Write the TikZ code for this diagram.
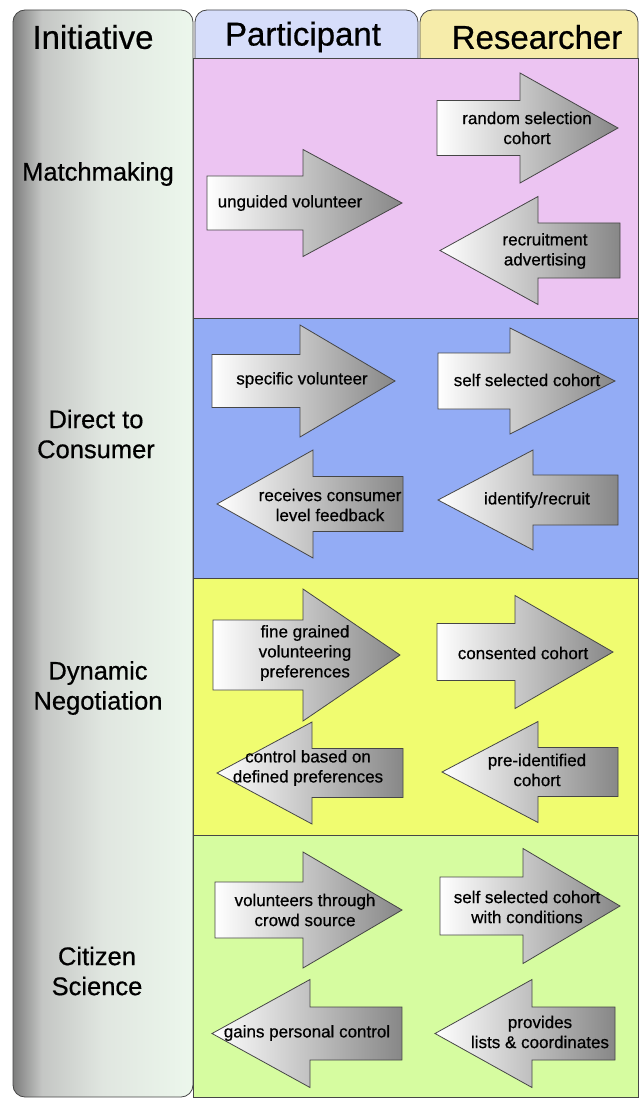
\documentclass[tikz,border=0pt]{standalone}
\usepackage{fontspec}
\setmainfont[FakeBold=0.6]{Liberation Sans}
\definecolor{pinkc}{RGB}{236,196,242}
\definecolor{bluec}{RGB}{147,172,245}
\definecolor{yellowc}{RGB}{240,252,112}
\definecolor{greenc}{RGB}{214,252,160}
\definecolor{partc}{RGB}{214,221,250}
\definecolor{resc}{RGB}{246,236,170}
\definecolor{edge}{RGB}{70,70,70}
\definecolor{colA}{RGB}{125,125,125}
\definecolor{colB}{RGB}{196,198,196}
\definecolor{colC}{RGB}{224,230,224}
\definecolor{colD}{RGB}{236,247,236}
\pgfdeclarehorizontalshading{initshade}{100bp}{color(0bp)=(colA); color(25bp)=(colA); color(33bp)=(colB); color(50bp)=(colC); color(75bp)=(colD); color(100bp)=(colD)}
\tikzset{
  arrowsty/.style={draw=edge, line width=0.8pt, left color=white, right color=black!47},
  atext/.style={inner sep=0pt, align=center, font=\fontsize{17}{20}\selectfont},
  htext/.style={inner sep=0pt, font=\fontsize{33}{36}\selectfont},
  rtext/.style={inner sep=0pt, align=center, font=\fontsize{25.5}{30}\selectfont},
  rowbox/.style={draw=edge, line width=0.8pt},
  tabbox/.style={draw=edge, line width=0.8pt, rounded corners=12pt}
}
\newcommand\rightarr[6]{%
  \shadedraw[arrowsty] (#1,#4-#5) -- (#2,#4-#5) -- (#2,#4-#6) -- (#3,#4) -- (#2,#4+#6) -- (#2,#4+#5) -- (#1,#4+#5) -- cycle;}
\newcommand\leftarr[6]{%
  \shadedraw[arrowsty] (#1,#4) -- (#2,#4-#6) -- (#2,#4-#5) -- (#3,#4-#5) -- (#3,#4+#5) -- (#2,#4+#5) -- (#2,#4+#6) -- cycle;}
\begin{document}
\begin{tikzpicture}[x=1pt,y=-1pt]
\useasboundingbox (0,0) rectangle (640,1099);
\fill[white] (0,0) rectangle (640,1099);
% initiative column
\shadedraw[shading=initshade, draw=edge, line width=0.8pt, rounded corners=12pt] (13,10) rectangle (193,1097);
% tabs
\draw[tabbox, fill=partc] (195,58) -- (195,10) -- (418,10) -- (418,58);
\draw[tabbox, fill=resc] (420,58) -- (420,10) -- (638,10) -- (638,58);
% rows
\draw[rowbox, fill=pinkc] (193,58) rectangle (638,318);
\draw[rowbox, fill=bluec] (193,318) rectangle (638,578);
\draw[rowbox, fill=yellowc] (193,578) rectangle (638,835);
\draw[rowbox, fill=greenc] (193,835) rectangle (638,1097);
% headers
\node[htext] (hI) at (93,37) {Initiative};
\node[htext] (hP) at (303,37) {Participant};
\node[htext] (hR) at (537,37) {Researcher};
% row labels
\node[rtext] (l1) at (98,174) {Matchmaking};
\node[rtext] (l2) at (96,434) {Direct to\\Consumer};
\node[rtext] (l3) at (98,688) {Dynamic\\Negotiation};
\node[rtext] (l4) at (97,971) {Citizen\\Science};
% row 1
\rightarr{437}{520}{618}{128}{27.5}{55}
\rightarr{207}{303}{402}{203}{27}{53.5}
\leftarr{440}{538}{620}{250.5}{27.5}{54}
\node[atext] (a11) at (527,128) {random selection\\cohort};
\node[atext] (a12) at (290,203) {unguided volunteer};
\node[atext] (a13) at (545,251) {recruitment\\advertising};
% row 2
\rightarr{212}{300}{395}{381}{26.5}{56}
\rightarr{438}{510}{615}{381}{28}{53}
\leftarr{217}{313}{403}{504}{27.5}{54}
\leftarr{438}{533}{618}{500}{25}{50}
\node[atext] (a21) at (302,380) {specific volunteer};
\node[atext] (a22) at (527,380) {self selected cohort};
\node[atext] (a23) at (330,505) {receives consumer\\level feedback};
\node[atext] (a24) at (537,500) {identify/recruit};
% row 3
\rightarr{213}{303}{400}{655}{35}{66}
\rightarr{437}{515}{613}{652}{28.5}{56.5}
\leftarr{217}{312}{403}{773}{24.5}{51}
\leftarr{442}{538}{618}{772}{24.5}{50.5}
\node[atext] (a31) at (305,653) {fine grained\\volunteering\\preferences};
\node[atext] (a32) at (523,653) {consented cohort};
\node[atext] (a33) at (308,768) {control based on\\defined preferences};
\node[atext] (a34) at (537,770) {pre-identified\\cohort};
% row 4
\rightarr{215}{303}{402}{910}{28}{58}
\rightarr{440}{523}{620}{906}{29}{57.5}
\leftarr{212}{310}{402}{1033.5}{26.5}{54}
\leftarr{435}{532}{615}{1033.5}{26.5}{54}
\node[atext] (a41) at (305,910) {volunteers through\\crowd source};
\node[atext] (a42) at (527,907) {self selected cohort\\with conditions};
\node[atext] (a43) at (307,1033) {gains personal control};
\node[atext] (a44) at (540,1032) {provides\\lists \& coordinates};
\end{tikzpicture}
\end{document}
